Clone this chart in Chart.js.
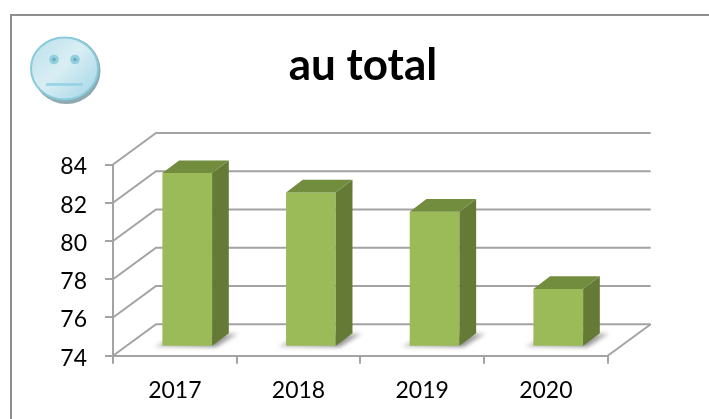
<!DOCTYPE html>
<html>
<head>
<meta charset="utf-8">
<title>au total</title>
<script src="https://cdn.jsdelivr.net/npm/chart.js@4"></script>
<style>
  html, body { margin: 0; padding: 0; background: #fff; overflow: hidden; }
  #frame { position: absolute; left: 10px; top: 14px; width: 699px; height: 405px;
           border-top: 2px solid #8e8e8e; border-left: 2px solid #8e8e8e; box-sizing: border-box; }
  #wrap { position: absolute; left: 0; top: 0; width: 709px; height: 419px; }
</style>
</head>
<body>
<div id="frame"></div>
<div id="wrap"><canvas id="totalChart" width="709" height="419"></canvas></div>
<script>
const categories = ["2017", "2018", "2019", "2020"];
const totals = [83, 82, 81, 77];
const yTicks = [74, 76, 78, 80, 82, 84];
const titleText = "au total";

const GRID = "#a3a3a3";
const DEPTH = { x: 43, y: -31.5 };      // back wall offset
const BAR_DEPTH = { x: 16.7, y: -12.6 };
const BAR_SHIFT = { x: 12.4, y: -8.9 }; // bars stand in the middle of the floor
const BAR_STRETCH = 1.0094;

function poly(ctx, pts, fill) {
  ctx.beginPath();
  pts.forEach((p, i) => i ? ctx.lineTo(p[0], p[1]) : ctx.moveTo(p[0], p[1]));
  ctx.closePath();
  ctx.fillStyle = fill;
  ctx.fill();
}

function drawSmiley(ctx) {
  ctx.save();
  // drop shadow under the face
  ctx.fillStyle = "#8fa9b1";
  ctx.beginPath();
  ctx.ellipse(66.5, 70.5, 34, 33.5, 0, 0, Math.PI * 2);
  ctx.fill();
  const g = ctx.createLinearGradient(38, 42, 92, 96);
  g.addColorStop(0, "#bfe2ec");
  g.addColorStop(0.45, "#d9eef4");
  g.addColorStop(1, "#a8d8e6");
  ctx.fillStyle = g;
  ctx.strokeStyle = "#88cbdc";
  ctx.lineWidth = 2;
  ctx.beginPath();
  ctx.ellipse(64.5, 68.5, 33.5, 31, 0, 0, Math.PI * 2);
  ctx.fill();
  ctx.stroke();
  [54, 75].forEach(x => {
    ctx.fillStyle = "#8fcfdf";
    ctx.beginPath();
    ctx.arc(x, 59.5, 4.8, 0, Math.PI * 2);
    ctx.fill();
    ctx.fillStyle = "#6fa9bb";
    ctx.beginPath();
    ctx.arc(x, 59.5, 1.8, 0, Math.PI * 2);
    ctx.fill();
  });
  ctx.strokeStyle = "#93d2e2";
  ctx.lineWidth = 2.5;
  ctx.beginPath();
  ctx.moveTo(46, 84.5);
  ctx.lineTo(83, 84.5);
  ctx.stroke();
  ctx.restore();
}

// back wall, floor and the 3d parts of the bars
const boxPlugin = {
  id: "box3d",
  beforeDatasetsDraw(chart) {
    const { ctx, scales: { x, y } } = chart;
    const left = x.left, right = x.right;
    ctx.save();
    ctx.strokeStyle = GRID;
    ctx.lineWidth = 2;
    yTicks.forEach(t => {
      const py = y.getPixelForValue(t);
      ctx.beginPath();
      ctx.moveTo(left, py);
      ctx.lineTo(left + DEPTH.x, py + DEPTH.y);
      ctx.lineTo(right + DEPTH.x, py + DEPTH.y);
      ctx.stroke();
    });
    const base = y.getPixelForValue(yTicks[0]);
    ctx.beginPath();
    ctx.moveTo(right, base);
    ctx.lineTo(right + DEPTH.x, base + DEPTH.y);
    ctx.stroke();

    // floor shadows
    const meta = chart.getDatasetMeta(0);
    ctx.filter = "blur(2px)";
    meta.data.forEach(bar => {
      const l = bar.x + BAR_SHIFT.x - bar.width / 2;
      const r = bar.x + BAR_SHIFT.x + bar.width / 2;
      const b = base + BAR_SHIFT.y;
      const g = ctx.createLinearGradient(l - 8, 0, r + 26, 0);
      g.addColorStop(0, "rgba(170,170,170,0.7)");
      g.addColorStop(0.7, "rgba(130,130,130,0.95)");
      g.addColorStop(1, "rgba(170,170,170,0.8)");
      poly(ctx, [[l - 8, b], [r + 4, b], [r + 26, b - 13], [l + 18, b - 13]], g);
    });
    ctx.filter = "none";
    ctx.restore();

    // the bars below get moved onto the floor
    ctx.save();
    ctx.translate(BAR_SHIFT.x, BAR_SHIFT.y + base * (1 - BAR_STRETCH));
    ctx.scale(1, BAR_STRETCH);
  },
  afterDatasetsDraw(chart) {
    const { ctx } = chart;
    const meta = chart.getDatasetMeta(0);
    meta.data.forEach(bar => {
      const l = bar.x - bar.width / 2;
      const r = bar.x + bar.width / 2;
      const dx = BAR_DEPTH.x, dy = BAR_DEPTH.y / BAR_STRETCH;
      poly(ctx, [[r, bar.y], [r + dx, bar.y + dy], [r + dx, bar.base + dy], [r, bar.base]], "#647a35");
      poly(ctx, [[l, bar.y], [l + dx, bar.y + dy], [r + dx, bar.y + dy], [r, bar.y]], "#738d3f");
    });
    ctx.restore();
    drawSmiley(ctx);
  }
};

new Chart(document.getElementById("totalChart"), {
  type: "bar",
  data: {
    labels: categories,
    datasets: [{
      label: titleText,
      data: totals,
      base: yTicks[0],
      backgroundColor: "#9bbb59",
      borderWidth: 0,
      barPercentage: 0.402,
      categoryPercentage: 1
    }]
  },
  plugins: [boxPlugin],
  options: {
    responsive: false,
    animation: false,
    layout: { padding: { left: 20, right: 3, top: 0, bottom: 0 } },
    plugins: {
      legend: { display: false },
      tooltip: { enabled: false },
      title: {
        display: true,
        text: titleText,
        color: "#000",
        font: { family: "Lato", size: 44, weight: "bold", lineHeight: 1.2 },
        padding: { top: 39.6, bottom: 72.1 }
      }
    },
    scales: {
      x: {
        grid: { color: GRID, lineWidth: 2, tickLength: 8, drawOnChartArea: false, offset: true },
        border: { color: GRID, width: 2 },
        ticks: { color: "#000", font: { family: "Lato", size: 23 }, padding: 13.5, maxRotation: 0 },
        afterFit(scale) { scale.height = 419 - 355.7; }
      },
      y: {
        min: 74,
        max: 84,
        afterBuildTicks(scale) { scale.ticks = yTicks.map(v => ({ value: v })); },
        grid: { color: GRID, lineWidth: 2, tickLength: 8, drawOnChartArea: false },
        border: { color: GRID, width: 2 },
        ticks: { color: "#000", font: { family: "Lato", size: 23 }, padding: 18, labelOffset: 2.5 },
        afterFit(scale) { scale.width = 113 - 20; }
      },
      // empty axis, keeps the space right of the plot so the title can centre where it should
      spacer: {
        position: "right",
        grid: { display: false },
        border: { display: false },
        ticks: { display: false },
        afterFit(scale) { scale.width = 98.3; }
      }
    }
  }
});
</script>
</body>
</html>
